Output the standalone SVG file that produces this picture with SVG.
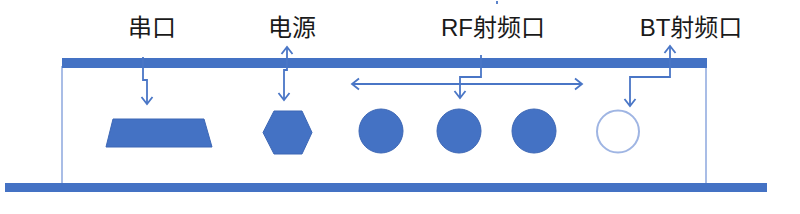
<svg xmlns="http://www.w3.org/2000/svg" width="800" height="214" viewBox="0 0 800 214">
<style>
.bar{fill:#4472c4}
.frame{stroke:#a9bde6;stroke-width:2;fill:none}
.solid{fill:#4472c4;stroke:#3d67b5;stroke-width:1}
.hollow{fill:#fff;stroke:#9fb5e3;stroke-width:2}
.conn{fill:none;stroke:#4a76c6;stroke-width:1.8}
.lbl{font-family:"Liberation Sans","Noto Sans CJK SC",sans-serif;font-size:24px;fill:#1a1a1a;text-anchor:middle}
</style>
<defs>
<marker id="ah" viewBox="-9 -7 11 14" refX="0" refY="0" markerWidth="11" markerHeight="14" markerUnits="userSpaceOnUse" orient="auto-start-reverse">
<path d="M-7,-5.5 L0,0 L-7,5.5" fill="none" stroke="#4a76c6" stroke-width="1.8"/>
</marker>
</defs>
<g id="board">
<line class="frame" x1="62" y1="66" x2="62" y2="184"/>
<line class="frame" x1="706" y1="66" x2="706" y2="184"/>
<rect class="bar" x="62" y="58" width="645" height="10"/>
<rect class="bar" x="5" y="183" width="762" height="9"/>
</g>
<g id="serial">
<text class="lbl" x="152" y="36">串口</text>
<polygon class="solid" points="113,119 204,119 212,147 106,147"/>
</g>
<g id="power">
<text class="lbl" x="292" y="36">电源</text>
<polygon class="solid" points="263,132.5 274,111 302,111 312,132.5 302,154 274,154"/>
</g>
<g id="rf">
<text class="lbl" x="493" y="36">RF射频口</text>
<circle class="solid" cx="381" cy="131" r="22"/>
<circle class="solid" cx="459" cy="131" r="22"/>
<circle class="solid" cx="534" cy="131" r="22"/>
</g>
<g id="bt">
<text class="lbl" x="691" y="36">BT射频口</text>
<circle class="hollow" cx="618" cy="131.5" r="21"/>
</g>
<g id="connectors">
<path class="conn" d="M143,57 V80 H147 V104" marker-end="url(#ah)"/>
<path class="conn" d="M287,47 V70 H284 V100" marker-start="url(#ah)" marker-end="url(#ah)"/>
<path class="conn" d="M481,55 V77 H460 V98" marker-end="url(#ah)"/>
<path class="conn" d="M352,84 H582" marker-start="url(#ah)" marker-end="url(#ah)"/>
<path class="conn" d="M670,46 V77 H630 V106" marker-start="url(#ah)" marker-end="url(#ah)"/>
<path class="conn" d="M497,1 V4"/>
</g>
</svg>
